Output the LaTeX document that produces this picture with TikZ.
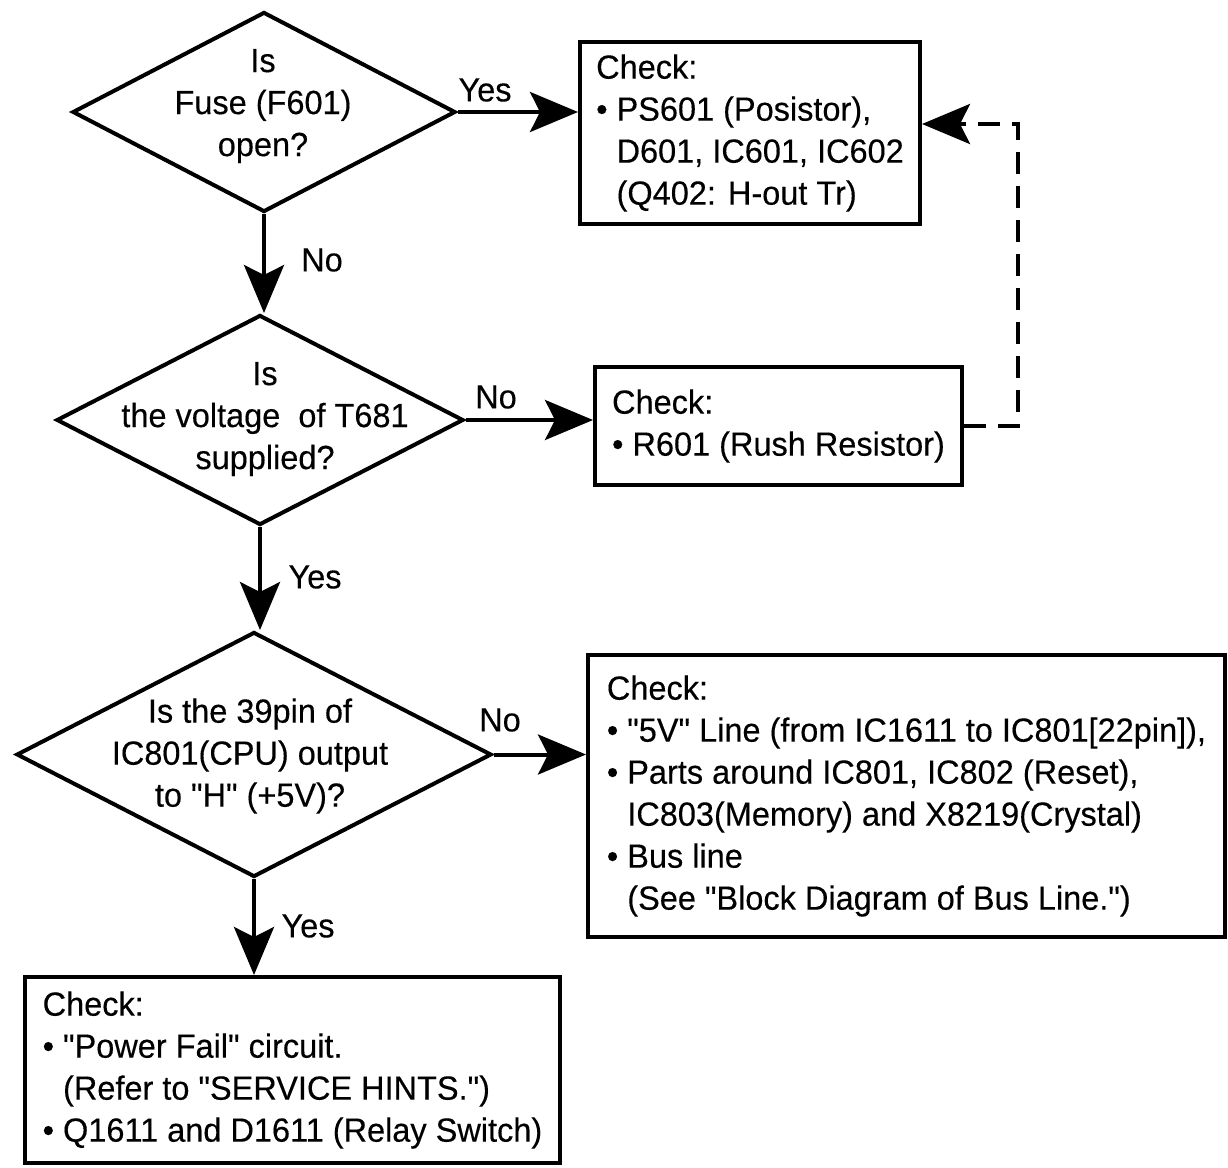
\documentclass[tikz,border=0pt]{standalone}
\usepackage{fontspec}
\newfontfamily\chartfont{Liberation Sans}[FakeStretch=0.97,FakeBold=0.3]
\usetikzlibrary{arrows.meta,shapes.geometric}
\newcommand{\bul}{\textbullet\ }
\newcommand{\ind}{\hphantom{\textbullet\ }}
\begin{document}
\begin{tikzpicture}[x=1pt,y=-1pt,
  every node/.style={font=\chartfont\fontsize{33.5}{42}\selectfont},
  dia/.style={draw, shape=diamond, line width=4pt, inner sep=0pt},
  chkbox/.style={draw, rectangle, line width=4pt, align=left, inner sep=0pt},
  qtext/.style={align=center, inner sep=0pt},
  lbl/.style={inner sep=0pt},
  flow/.style={line width=4pt, -{Stealth[length=48pt,width=40pt,inset=10pt]}},
  dflow/.style={flow, dash pattern=on 22pt off 12pt}]
\useasboundingbox (0,0) rectangle (1228,1167);

% decisions
\node[dia, minimum width=383pt, minimum height=200pt] (d1) at (264,112) {};
\node[qtext] (t1) at (263,106) {Is\\Fuse (F601)\\open?};
\node[dia, minimum width=407pt, minimum height=210pt] (d2) at (260,420) {};
\node[qtext] (t2) at (265,419) {Is\\the voltage\ \ of T681\\supplied?};
\node[dia, minimum width=475pt, minimum height=245pt] (d3) at (254,754.5) {};
\node[qtext] (t3) at (250,756) {Is the 39pin of\\IC801(CPU) output\\to "H" (+5V)?};

% check boxes
\node[chkbox, minimum width=340pt, minimum height=182pt] (b1) at (750,133)
  {Check:\\\bul PS601 (Posistor),\\\ind D601, IC601, IC602\\\ind (Q402: H-out Tr)};
\node[chkbox, minimum width=367pt, minimum height=118pt] (b2) at (778.5,426)
  {Check:\\\bul R601 (Rush Resistor)};
\node[chkbox, minimum width=637pt, minimum height=282pt] (b3) at (906.5,796)
  {Check:\\\bul "5V" Line (from IC1611 to IC801[22pin]),\\\bul Parts around IC801, IC802 (Reset),\\\ind IC803(Memory) and X8219(Crystal)\\\bul Bus line\\\ind (See "Block Diagram of Bus Line.")};
\node[chkbox, minimum width=535pt, minimum height=186pt] (b4) at (292.5,1070)
  {Check:\\\bul "Power Fail" circuit.\\\ind (Refer to "SERVICE HINTS.")\\\bul Q1611 and D1611 (Relay Switch)};

% connectors
\draw[flow] (d1.east) -- (d1.east -| b1.west);
\draw[flow] (d1.south) -- (d1.south |- d2.north);
\draw[flow] (d2.east) -- (d2.east -| b2.west);
\draw[flow] (d2.south) -- (d2.south |- d3.north);
\draw[flow] (d3.east) -- (d3.east -| b3.west);
\draw[flow] (d3.south) -- (d3.south |- b4.north);
\coordinate (dB) at (1018,124);
\draw[dflow] (b2.east) -| (dB) -- (dB -| b1.east);

% labels
\node[lbl] (l1) at (485,90) {Yes};
\node[lbl] (l2) at (322,260) {No};
\node[lbl] (l3) at (496,397) {No};
\node[lbl] (l4) at (315,577) {Yes};
\node[lbl] (l5) at (500,720) {No};
\node[lbl] (l6) at (308,926) {Yes};
\end{tikzpicture}
\end{document}
